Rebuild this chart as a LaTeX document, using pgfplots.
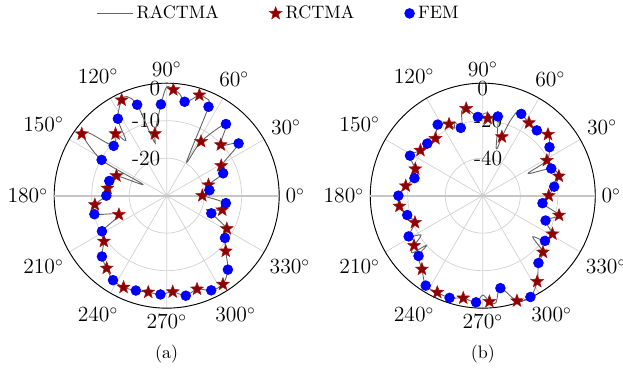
\documentclass[border=0pt]{standalone}
\usepackage{pgfplots}
\usepackage{pgfplotstable}
\pgfplotsset{compat=1.18}
\usepgfplotslibrary{polar}

\definecolor{starred}{RGB}{139,0,0}
\definecolor{stared}{RGB}{170,20,20}
\definecolor{linegray}{RGB}{100,100,100}

\pgfdeclareplotmark{fstar}{%
  \pgfpathmoveto{\pgfpointpolar{90}{\pgfplotmarksize}}%
  \pgfpathlineto{\pgfpointpolar{126}{0.42\pgfplotmarksize}}%
  \pgfpathlineto{\pgfpointpolar{162}{\pgfplotmarksize}}%
  \pgfpathlineto{\pgfpointpolar{198}{0.42\pgfplotmarksize}}%
  \pgfpathlineto{\pgfpointpolar{234}{\pgfplotmarksize}}%
  \pgfpathlineto{\pgfpointpolar{270}{0.42\pgfplotmarksize}}%
  \pgfpathlineto{\pgfpointpolar{306}{\pgfplotmarksize}}%
  \pgfpathlineto{\pgfpointpolar{342}{0.42\pgfplotmarksize}}%
  \pgfpathlineto{\pgfpointpolar{18}{\pgfplotmarksize}}%
  \pgfpathlineto{\pgfpointpolar{54}{0.42\pgfplotmarksize}}%
  \pgfpathclose
  \pgfusepathqfillstroke}

% ---------- (a) data: angle, level in dB ----------
\pgfplotstableread{
a r
0 -20.5
7.2 -18.5
14.4 -18.5
21.6 -13.8
28.8 -13.4
36 -6.3
43.2 -10.2
50.4 -5.2
57.6 -12.9
59.5 -19.5
64.8 -3.8
68 -2.0
72 -1.8
75.5 -3.5
79.2 -4.5
83 -2.5
86.4 -1.7
90 -1.0
93.6 -5.6
100.8 -13.2
103 -15.3
108 -4.5
112 -1.5
115.2 -1.8
122.4 -5.7
126.5 -11.7
129.6 -8.6
136.8 -10.6
141 -3.5
144 -2.0
151.2 -10.2
154.5 -23.0
158.4 -15.6
165.6 -14.2
172.8 -14.1
180 -13.9
187.2 -10.7
194.4 -10.1
201.6 -16.3
208.8 -10.3
216 -9.3
223.2 -6.3
230.4 -4.9
237.6 -3.3
244.8 -3.0
252 -3.4
259.2 -3.8
266.4 -3.6
273.6 -4.3
280.8 -2.85
288 -3.8
295.2 -2.1
302.4 -2.0
309.6 -4.4
316.8 -8.4
324 -10.8
331.2 -11.7
338.4 -17.2
341 -18.7
345.6 -14.7
352.8 -14.1
360 -20.5
}\lineA

\pgfplotstableread{
a r
0 -20.5
14.4 -18.5
28.8 -13.4
43.2 -10.2
57.6 -12.9
72 -1.8
86.4 -1.7
100.8 -13.2
115.2 -1.8
129.6 -8.6
144 -2.0
158.4 -15.6
172.8 -14.1
187.2 -10.7
201.6 -16.3
216 -9.3
230.4 -4.9
244.8 -3.0
259.2 -3.8
273.6 -4.3
288 -3.8
302.4 -2.0
316.8 -8.4
331.2 -11.7
345.6 -14.7
}\starA

\pgfplotstableread{
a r
7.2 -18.5
21.6 -13.8
36 -6.3
50.4 -5.2
64.8 -3.8
79.2 -4.5
93.6 -5.6
108 -4.5
122.4 -5.7
136.8 -10.6
151.2 -10.2
165.6 -14.2
180 -13.9
194.4 -10.1
208.8 -10.3
223.2 -6.3
237.6 -3.3
252 -3.4
266.4 -3.6
280.8 -2.85
295.2 -2.1
309.6 -4.4
324 -10.8
338.4 -17.2
352.8 -14.1
}\dotA

% ---------- (b) data ----------
\pgfplotstableread{
a r
0 -24.8
7.2 -21.6
14.4 -18.1
21.6 -20.7
26 -33.0
28.8 -21.0
36 -16.0
43.2 -12.3
50.4 -14.8
57.6 -14.0
64.8 -11.8
67.5 -11.0
70 -18
72 -27.0
74 -34
79.2 -17.0
86.4 -18.7
93.6 -17.9
100.8 -12.7
104 -13.5
106 -20
108 -22.0
111 -18
113 -21
115.2 -17.8
122.4 -15.1
129.6 -20.4
133 -18
136.8 -19.4
144 -18.9
151.2 -15.7
158.4 -21.3
165.6 -22.4
172.8 -18.6
180 -15.0
187.2 -15.2
194.4 -18.4
201.6 -21.1
208.8 -14.9
212.5 -21
216 -14.7
219 -11.5
221.5 -20
223.2 -13.0
230.4 -9.1
237.6 -3.2
244.8 -3.0
252 -2.7
259.2 -4.4
266.4 -3.0
270 -7.0
273.6 -3.4
277 -2.5
280.8 -9.8
288 -1.0
295.2 -0.3
302.4 -5.8
309.6 -13.4
316.8 -16.0
320.5 -25.5
324 -19.0
331.2 -17.6
338.4 -24.0
345.6 -18.0
352.8 -27.9
360 -24.8
}\lineB

\pgfplotstableread{
a r
0 -24.8
14.4 -18.1
28.8 -21.0
43.2 -12.3
57.6 -14.0
72 -27.0
86.4 -18.7
100.8 -12.7
115.2 -17.8
129.6 -20.4
144 -18.9
158.4 -21.3
172.8 -18.6
187.2 -15.2
201.6 -21.1
216 -14.7
230.4 -9.1
244.8 -3.0
259.2 -4.4
273.6 -3.4
288 -1.0
302.4 -5.8
316.8 -16.0
331.2 -17.6
345.6 -18.0
}\starB

\pgfplotstableread{
a r
7.2 -21.6
21.6 -20.7
36 -16.0
50.4 -14.8
64.8 -11.8
79.2 -17.0
93.6 -17.9
108 -22.0
122.4 -15.1
136.8 -19.4
151.2 -15.7
165.6 -22.4
180 -15.0
194.4 -18.4
208.8 -14.9
223.2 -13.0
237.6 -3.2
252 -2.7
266.4 -3.0
280.8 -9.8
295.2 -0.3
309.6 -13.4
324 -19.0
338.4 -24.0
352.8 -27.9
}\dotB

\pgfplotsset{
  mypolar/.style={
    scale only axis,
    width=125pt, height=125pt,
    anchor=center,
    clip=false,
    xtick={0,30,...,330},
    xticklabel={$\pgfmathprintnumber{\tick}^\circ$},
    xticklabel style={font=\large},
    yticklabels={},
    grid=major,
    major grid style={gray!35, line width=0.4pt},
    axis line style={black, line width=0.5pt},
    major tick length=0pt,
  },
  linestyle/.style={linegray, line width=0.5pt, smooth, tension=0.5, no marks,
    legend image code/.code={\draw[##1] (0pt,0pt) -- (20pt,0pt);}},
  starstyle/.style={only marks, mark=fstar, mark size=3.7pt,
    mark options={fill=starred, draw=stared, line width=0.3pt}},
  dotstyle/.style={only marks, mark=*, mark size=2.7pt,
    mark options={fill=blue, draw=blue}},
}

\begin{document}
\begin{tikzpicture}
\useasboundingbox (-92.6pt,-98.5pt) rectangle (253.5pt,108.7pt);

\begin{polaraxis}[mypolar, at={(0pt,0pt)},
  ymin=0, ymax=30, ytick={10,20,30},
  legend columns=3,
  legend style={draw=none, fill=none, at={(axis description cs:1.0,1.31)}, anchor=center,
    /tikz/every even column/.append style={column sep=26pt}, font=\normalsize},
  legend cell align=left,
]
\node[anchor=east, font=\large] at (axis cs:90,10) {-20};
\node[anchor=east, font=\large] at (axis cs:90,20) {-10};
\node[anchor=east, font=\large] at (axis cs:90,28.5) {0};
\draw[gray!45, line width=1pt] (axis cs:180,30) -- (axis cs:0,30);
\addplot[linestyle] table[x=a, y expr=\thisrow{r}+30] {\lineA};
\addlegendentry{RACTMA}
\addplot[starstyle] table[x=a, y expr=\thisrow{r}+30] {\starA};
\addlegendentry{RCTMA}
\addplot[dotstyle] table[x=a, y expr=\thisrow{r}+30] {\dotA};
\addlegendentry{FEM}
\end{polaraxis}

\begin{polaraxis}[mypolar, at={(175.6pt,0pt)},
  ymin=0, ymax=60, ytick={20,40,60},
]
\node[font=\large, xshift=3pt] at (axis cs:90,20) {-40};
\node[font=\large, xshift=3pt] at (axis cs:90,40) {-20};
\node[font=\large] at (axis cs:90,57.2) {0};
\draw[gray!45, line width=1pt] (axis cs:180,60) -- (axis cs:0,60);
\addplot[linestyle] table[x=a, y expr=\thisrow{r}+60] {\lineB};
\addplot[starstyle] table[x=a, y expr=\thisrow{r}+60] {\starB};
\addplot[dotstyle] table[x=a, y expr=\thisrow{r}+60] {\dotB};
\end{polaraxis}

\node at (0pt,-87.8pt) {(a)};
\node at (175.6pt,-87.8pt) {(b)};
\end{tikzpicture}
\end{document}
